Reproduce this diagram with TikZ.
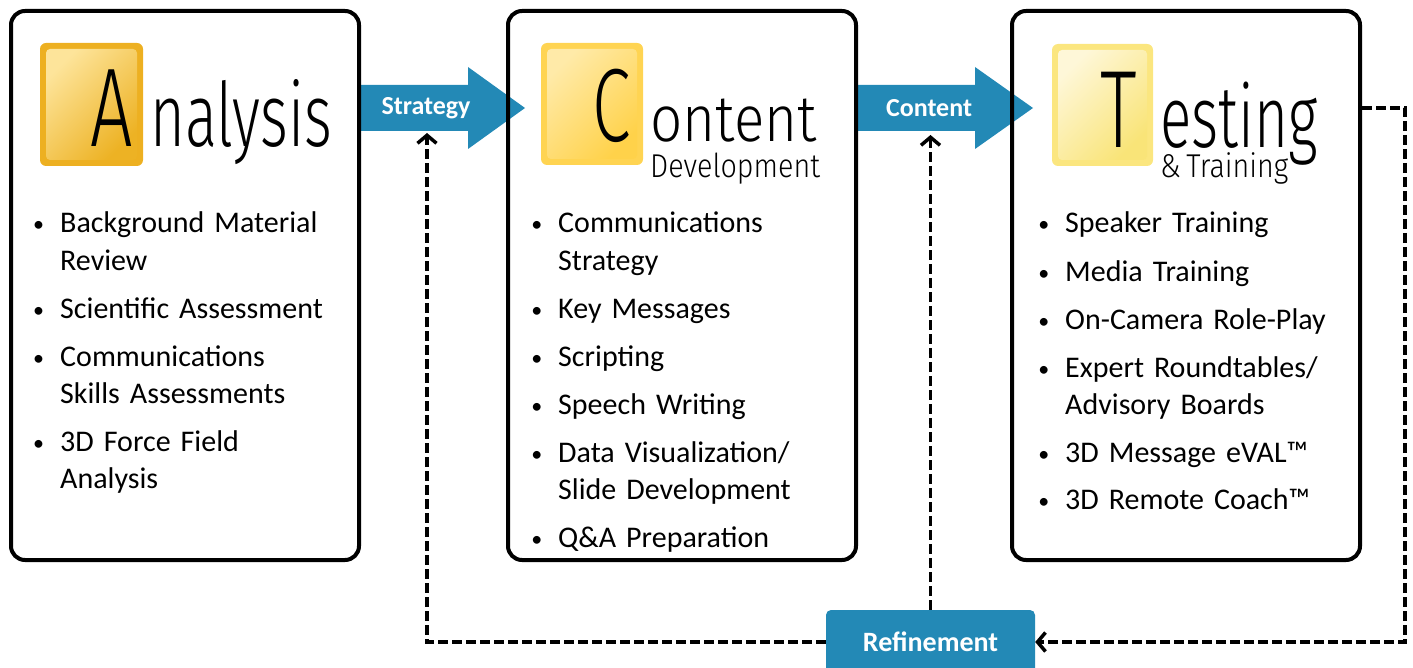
\documentclass[tikz,border=0pt]{standalone}
\usepackage{fontspec}
\setmainfont{Carlito}
\newfontfamily\ttl{Fira Sans Light}[FakeStretch=0.67]
\newfontfamily\ttlw{Fira Sans Light}[FakeStretch=0.87]
\usetikzlibrary{arrows.meta}
\definecolor{blu}{HTML}{2389B6}
\definecolor{bA}{HTML}{EDB021}
\definecolor{lA}{HTML}{FDE49A}
\definecolor{dA}{HTML}{EDB224}
\definecolor{bC}{HTML}{FFD452}
\definecolor{lC}{HTML}{FFEAA8}
\definecolor{dC}{HTML}{FFD24A}
\definecolor{bT}{HTML}{FBE67F}
\definecolor{lT}{HTML}{FEF7D8}
\definecolor{dT}{HTML}{F9E478}
\newcommand{\blt}{\llap{\raisebox{1pt}{\fontsize{22}{22}\selectfont•}\hspace{16pt}}}
\begin{document}
\begin{tikzpicture}[x=1pt,y=-1pt,
  bigbox/.style={draw=black, line width=4pt, rounded corners=14pt, minimum width=348pt, minimum height=549pt, inner sep=0pt, outer sep=0pt},
  itm/.style={anchor=base west, inner sep=0pt, text width=320pt, align=left, font=\fontsize{30}{37.5}\selectfont},
  bigl/.style={anchor=base west, inner sep=0pt},
  arrtxt/.style={text=white, font=\bfseries\fontsize{26}{28}\selectfont, inner sep=0pt},
  dsh/.style={line width=3.5pt, dash pattern=on 10pt off 4pt, -{Straight Barb[length=8pt,width=19pt]}},
  ref/.style={fill=blu, rounded corners=5pt, minimum width=209pt, minimum height=64pt, text=white, font=\bfseries\fontsize{28}{30}\selectfont, inner sep=0pt}
]
\useasboundingbox (0,0) rectangle (1413,668);

% blue arrows
\fill[blu] (358,85) -- (468,85) -- (468,67) -- (525,108) -- (468,149) -- (468,131) -- (358,131) -- cycle;
\fill[blu] (856,85) -- (975,85) -- (975,67) -- (1033,108) -- (975,149) -- (975,131) -- (856,131) -- cycle;
\node[arrtxt] (tS) at (426,108) {Strategy};
\node[arrtxt] (tC) at (929,108) {Content};

% big boxes
\node[bigbox] (boxA) at (185,285.5) {};
\node[bigbox] (boxC) at (682,285.5) {};
\node[bigbox] (boxT) at (1186,285.5) {};

% letter squares
\fill[bA, rounded corners=6pt] (40,43) rectangle (143,166);
\shade[rounded corners=4pt, top color=lA, bottom color=dA, shading angle=45] (46,49) rectangle (137,160);
\fill[bC, rounded corners=6pt] (541,43) rectangle (643,165);
\shade[rounded corners=4pt, top color=lC, bottom color=dC, shading angle=45] (547,49) rectangle (637,159);
\fill[bT, rounded corners=6pt] (1052,44) rectangle (1153,166);
\shade[rounded corners=4pt, top color=lT, bottom color=dT, shading angle=45] (1058,50) rectangle (1147,160);

% titles
\node[bigl, font=\ttl\fontsize{112}{112}\selectfont] (LA) at (90,147) {A};
\node[bigl, font=\ttl\fontsize{89}{89}\selectfont] (RA) at (150,147) {nalysis};
\node[bigl, font=\ttl\fontsize{104}{104}\selectfont] (LC) at (592,142) {C};
\node[bigl, text depth=0pt, font=\ttlw\fontsize{65}{65}\selectfont] (RC) at (650,142) {ontent};
\node[bigl, font=\ttlw\fontsize{33}{33}\selectfont] (SC) at (650,178) {Development};
\node[bigl, font=\ttl\fontsize{110}{110}\selectfont] (LT) at (1100,148) {T};
\node[bigl, text depth=0pt, font=\ttl\fontsize{87}{87}\selectfont] (RT) at (1160,148) {esting};
\node[bigl, font=\ttlw\fontsize{33}{33}\selectfont] (ST) at (1160,178) {\&\,Training};

% items, box A
\node[itm] (a1) at (60,233) {\blt Background Material\\Review};
\node[itm] (a2) at (60,318) {\blt Scientific Assessment};
\node[itm] (a3) at (60,366) {\blt Communications\\Skills Assessments};
\node[itm] (a4) at (60,451) {\blt 3D Force Field\\Analysis};
% box C
\node[itm] (c1) at (558,233) {\blt Communications\\Strategy};
\node[itm] (c2) at (558,318) {\blt Key Messages};
\node[itm] (c3) at (558,366) {\blt Scripting};
\node[itm] (c4) at (558,414) {\blt Speech Writing};
\node[itm] (c5) at (558,462) {\blt Data Visualization/\\Slide Development};
\node[itm] (c6) at (558,547) {\blt Q\&A Preparation};
% box T
\node[itm] (t1) at (1065,233) {\blt Speaker Training};
\node[itm] (t2) at (1065,281) {\blt Media Training};
\node[itm] (t3) at (1065,329) {\blt On-Camera Role-Play};
\node[itm] (t4) at (1065,377) {\blt Expert Roundtables/\\Advisory Boards};
\node[itm] (t5) at (1065,462) {\blt 3D Message eVAL™};
\node[itm] (t6) at (1065,509) {\blt 3D Remote Coach™};

% refinement
\node[ref] (ref) at (930.5,642) {Refinement};
\coordinate (sA) at (427,133);
\coordinate (sC) at (930.5,135);
\coordinate (tOut) at (1362,108);
\coordinate (rc) at (1405,108);
\draw[dsh] (ref.west) -| (sA);
\draw[dsh] (ref.north) -- (sC);
\draw[dsh] (tOut) -- (rc) |- (ref.east);
\end{tikzpicture}
\end{document}
